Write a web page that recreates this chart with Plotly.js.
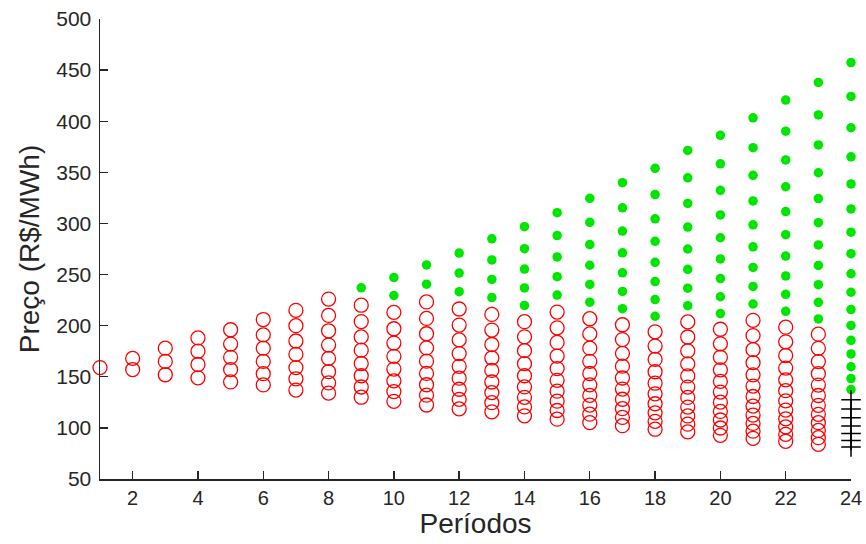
<!DOCTYPE html>
<html>
<head>
<meta charset="utf-8">
<script src="https://cdn.plot.ly/plotly-3.0.1.min.js"></script>
<style>html,body{margin:0;padding:0;background:#fff;}#chart{width:866px;height:544px;}</style>
</head>
<body>
<div id="chart"></div>
<script>
// Periods (x axis)
const periods = [1,2,3,4,5,6,7,8,9,10,11,12,13,14,15,16,17,18,19,20,21,22,23,24];

// Red open circles: prices per period (R$/MWh)
const redByPeriod = [
  [159],
  [157, 168],
  [152, 165, 178],
  [149, 162, 175, 188],
  [145, 157, 169, 182, 196],
  [142, 153, 165, 178, 191, 206],
  [137, 148, 159, 172, 185, 200, 215],
  [134, 144, 155, 168, 181, 195, 210, 226],
  [130, 140, 151, 163, 176, 189, 204, 220],
  [126, 135.5, 146, 157.5, 170, 183, 197, 213],
  [122.4, 132, 142.2, 153.3, 165.3, 178.2, 192.1, 207.1, 223.2],
  [118.6, 127.9, 137.8, 148.6, 160.2, 172.7, 186.1, 200.6, 216.3],
  [115.7, 124.7, 134.5, 144.9, 156.2, 168.4, 181.6, 195.7, 211],
  [111.8, 120.5, 129.9, 140.1, 151, 162.8, 175.5, 189.1, 203.9],
  [108.5, 117, 126.1, 135.9, 146.5, 158, 170.3, 183.6, 197.9, 213.3],
  [105.2, 113.4, 122.3, 131.8, 142.1, 153.2, 165.1, 178, 191.9, 206.8],
  [102.2, 110.2, 118.8, 128, 138, 148.8, 160.4, 172.9, 186.4, 200.9],
  [98.7, 106.4, 114.7, 123.6, 133.3, 143.7, 154.9, 167, 180, 194],
  [96.1, 103.6, 111.7, 120.4, 129.8, 139.9, 150.8, 162.6, 175.3, 188.9, 203.7],
  [92.7, 99.9, 107.7, 116.1, 125.2, 135, 145.5, 156.8, 169.1, 182.2, 196.5],
  [89.8, 96.8, 104.4, 112.5, 121.3, 130.7, 140.9, 151.9, 163.8, 176.5, 190.3, 205.2],
  [86.9, 93.7, 101, 108.9, 117.4, 126.5, 136.4, 147, 158.5, 170.8, 184.2, 198.5],
  [83.9, 90.4, 97.5, 105.1, 113.3, 122.1, 131.7, 141.9, 153, 164.9, 177.8, 191.7],
  []
];

// Green filled dots: prices per period
const greenByPeriod = [
  [], [], [], [], [], [], [], [],
  [237],
  [229.5, 247],
  [240.6, 259.4],
  [233.2, 251.4, 271],
  [227.5, 245.2, 264.3, 285],
  [219.8, 236.9, 255.4, 275.3, 296.8],
  [229.9, 247.9, 267.2, 288.1, 310.5],
  [223, 240.3, 259.1, 279.3, 301.1, 324.6],
  [216.6, 233.5, 251.7, 271.3, 292.5, 315.3, 339.9],
  [209.2, 225.5, 243.1, 262, 282.5, 304.5, 328.3, 353.9],
  [219.6, 236.7, 255.1, 275, 296.5, 319.6, 344.6, 371.4],
  [211.8, 228.3, 246.1, 265.3, 286, 308.3, 332.4, 358.3, 386.2],
  [221.2, 238.4, 257, 277.1, 298.7, 322, 347.1, 374.1, 403.3],
  [214, 230.7, 248.7, 268.1, 289, 311.6, 335.9, 362.1, 390.3, 420.7],
  [206.6, 222.8, 240.1, 258.9, 279, 300.8, 324.3, 349.6, 376.8, 406.2, 437.9],
  [137.5, 148.3, 159.8, 172.3, 185.7, 200.2, 215.8, 232.7, 250.8, 270.4, 291.5, 314.2, 338.7, 365.2, 393.6, 424.3, 457.4]
];

// Black crosses: prices per period
const blackByPeriod = [
  [], [], [], [], [], [], [], [], [], [], [], [], [], [], [], [], [], [], [], [], [], [], [],
  [81.3, 87.6, 94.5, 101.8, 109.8, 118.4, 127.6]
];

const xTicks = [2,4,6,8,10,12,14,16,18,20,22,24];
const yTicks = [50,100,150,200,250,300,350,400,450,500];

function flatten(groups) {
  const xs = [], ys = [];
  groups.forEach((vals, i) => vals.forEach(v => { xs.push(periods[i]); ys.push(v); }));
  return {xs, ys};
}

const red = flatten(redByPeriod);
const green = flatten(greenByPeriod);
const black = flatten(blackByPeriod);

const font = 'Liberation Sans, Arial, Helvetica, sans-serif';
const ink = '#262626';

const traces = [
  {x: red.xs, y: red.ys, type: 'scatter', mode: 'markers', cliponaxis: false,
   marker: {symbol: 'circle-open', size: 14, color: '#ff0000', line: {width: 1.3, color: '#ff0000'}}},
  {x: green.xs, y: green.ys, type: 'scatter', mode: 'markers', cliponaxis: false,
   marker: {symbol: 'circle', size: 9.5, color: '#00e600', line: {width: 0}}},
  {x: black.xs, y: black.ys, type: 'scatter', mode: 'markers', cliponaxis: false,
   marker: {symbol: 'cross-thin-open', size: 14, color: '#000000', line: {width: 1.5, color: '#000000'}}}
];

const layout = {
  width: 866, height: 544,
  margin: {l: 100, r: 15, t: 19, b: 65},
  showlegend: false,
  paper_bgcolor: '#ffffff', plot_bgcolor: '#ffffff',
  font: {family: font, color: ink, size: 20},
  xaxis: {
    range: [1, 24], tickvals: xTicks, ticktext: xTicks.map(String),
    ticks: 'inside', ticklen: 8, tickwidth: 1.4, tickcolor: ink,
    showline: true, linecolor: ink, linewidth: 1.5, mirror: false,
    showgrid: false, zeroline: false,
    tickfont: {family: font, size: 20, color: ink},
    title: {text: 'Períodos', font: {family: font, size: 28, color: ink}, standoff: 5}
  },
  yaxis: {
    range: [50, 500], tickvals: yTicks, ticktext: yTicks.map(String),
    ticks: 'inside', ticklen: 8, tickwidth: 1.4, tickcolor: ink,
    ticklabelstandoff: 3,
    showline: true, linecolor: ink, linewidth: 1.5, mirror: false,
    showgrid: false, zeroline: false,
    tickfont: {family: font, size: 21, color: ink},
    title: {text: 'Preço (R$/MWh)', font: {family: font, size: 28, color: ink}, standoff: 8}
  }
};

Plotly.newPlot('chart', traces, layout, {displayModeBar: false, staticPlot: true});
</script>
</body>
</html>
